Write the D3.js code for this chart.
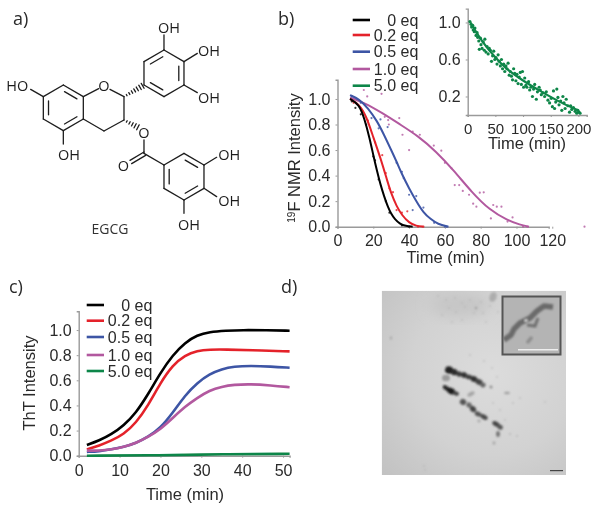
<!DOCTYPE html>
<html><head><meta charset="utf-8">
<script src="https://cdn.jsdelivr.net/npm/d3@7"></script>
<style>html,body{margin:0;padding:0;background:#fff}svg{display:block}</style>
</head><body><svg id="c" width="600" height="505"></svg>
<script>
// ---------- data ----------
const eqLabels = ["0 eq","0.2 eq","0.5 eq","1.0 eq","5.0 eq"];
const seriesColors = ["#050505","#e4232b","#3d55a5","#b2599f","#108648"];
const yTicksB = [0,0.2,0.4,0.6,0.8,1.0];
const xTicksB = [0,20,40,60,80,100,120];
const yTicksInset = [0.2,0.6,1.0];
const xTicksInset = [0,50,100,150,200];
const xTicksC = [0,10,20,30,40,50];

const nmrCurve0 = [[7,1.0],[12,.96],[15,.85],[18,.69],[20,.56],[22,.44],[24,.33],[26,.24],[28,.16],[30,.1],[32,.06],[35,.02],[38,.005],[42,0]];
const nmrCurve02 = [[7,1.0],[12,.96],[16,.87],[20,.7],[24,.54],[28,.35],[30,.26],[33,.16],[36,.09],[40,.03],[44,.005],[48,0]];
const nmrCurve05 = [[7,1.03],[12,1.0],[17,.93],[22,.83],[26,.72],[30,.6],[33,.51],[36,.41],[40,.3],[44,.2],[48,.11],[52,.06],[56,.02],[62,0]];
const nmrCurve10 = [[7,1.01],[15,.97],[25,.89],[35,.80],[45,.71],[55,.59],[65,.44],[75,.27],[85,.13],[95,.05],[102,.015],[107,0]];
const nmrPts0 = [[8,.98],[10,.93],[13,.88],[16,.8],[20,.55],[21,.52],[23,.37],[27,.2],[29,.11],[36,.01],[40,0]];
const nmrPts02 = [[9,.97],[11,.96],[14,.9],[17,.83],[21,.66],[25,.56],[27,.42],[29,.3],[31,.27],[33,.13],[36,.11],[39,.12],[45,0],[48,0]];
const nmrPts05 = [[8,1.02],[13,.97],[19,.85],[24,.84],[23,.77],[28,.78],[33,.5],[36,.43],[37,.38],[40,.25],[44,.24],[42,.13],[48,.15],[54,.03],[60,0],[61,0]];
const nmrPts10 = [[14.7,1.07],[16.6,1.02],[24.6,1.04],[28.3,.835],[28.7,.8],[26.4,.86],[34.5,.85],[36.3,.72],[40,.6],[42,.745],[46,.72],[53.8,.635],[58,.595],[60,.5],[63.7,.457],[65.5,.326],[68,.326],[70,.28],[73.5,.25],[79.5,.266],[81.7,.269],[75.8,.18],[77.6,.157],[87,.17],[89,.157],[91.6,.157],[85.7,.065],[97.8,.073],[95,.04],[106,0],[103.7,0],[138,0]];

const insetCurve = [[5,1.0],[26,.79],[50,.62],[68,.505],[100,.37],[128,.27],[164,.145],[200,.05]];
const insetPts = [[4,1.01],[6,.98],[7,.95],[9,.97],[10,.92],[12,.9],[13,.94],[15,.86],[17,.89],[18,.84],[20,.8],[21,.71],[23,.83],[24,.76],[26,.72],[28,.79],[30,.7],[31,.82],[33,.68],[35,.74],[37,.66],[39,.72],[41,.7],[43,.58],[45,.64],[47,.69],[49,.6],[51,.62],[53,.55],[55,.65],[57,.58],[59,.53],[61,.6],[63,.5],[65,.55],[67,.47],[69,.53],[71,.5],[73,.56],[75,.43],[77,.47],[79,.42],[81,.38],[83,.5],[85,.45],[87,.37],[89,.44],[91,.34],[93,.41],[95,.46],[97,.33],[99,.47],[101,.3],[103,.4],[105,.32],[107,.3],[110,.36],[112,.27],[114,.3],[117,.2],[119,.28],[121,.33],[124,.17],[126,.25],[129,.3],[131,.27],[133,.22],[136,.24],[139,.2],[142,.25],[145,.16],[148,.13],[151,.18],[153,.09],[155,.26],[157,.07],[159,.14],[161,.28],[163,.19],[165,.11],[168,.15],[170,.05],[172,.2],[174,.13],[176,.07],[178,.17],[181,.1],[184,.03],[186,.1],[188,.06],[191,.08],[194,.04],[197,.02],[199,.05],[201,.03],[203,.02]];

const thtCurve0 = [[2,.085],[5,.12],[8,.17],[11,.24],[14,.34],[17,.49],[20,.66],[23,.8],[26,.9],[29,.96],[32,.985],[36,.995],[40,1],[46,.998],[52,.995]];
const thtCurve02 = [[2,.05],[5,.08],[8,.12],[11,.17],[14,.26],[17,.4],[20,.58],[23,.72],[26,.8],[29,.835],[32,.845],[36,.845],[42,.84],[52,.83]];
const thtCurve05 = [[2,.03],[5,.035],[8,.05],[11,.07],[14,.1],[17,.15],[20,.22],[23,.34],[26,.48],[29,.58],[32,.65],[35,.69],[38,.71],[42,.715],[47,.71],[52,.70]];
const thtCurve10 = [[2,.04],[5,.04],[8,.05],[11,.07],[14,.1],[17,.15],[20,.21],[23,.3],[26,.39],[29,.46],[32,.52],[35,.55],[38,.565],[42,.57],[47,.56],[52,.545]];
const thtCurve50 = [[2,0],[20,.003],[35,.012],[52,.015]];

// ---------- setup ----------
const FONT = "'Liberation Sans',Arial,sans-serif", TXT="#2a2a2a", AX="#9a9a9a";
const svg = d3.select("#c");
const defs = svg.append("defs");
const blur=(id,s)=>defs.append("filter").attr("id",id).attr("x","-30%").attr("y","-30%").attr("width","160%").attr("height","160%").append("feGaussianBlur").attr("stdDeviation",s);
blur("soft",0.45); blur("b1",0.8); blur("b2",1.2); blur("b6",7);
const root = svg.append("g").attr("filter","url(#soft)");
const curveLine=(x,y)=>d3.line().x(d=>x(d[0])).y(d=>y(d[1])).curve(d3.curveBasis);

function axes(g,x,y,xTicks,yTicks,o){
  const xA=g.append("g").attr("transform",`translate(0,${y(0)})`).call(d3.axisBottom(x).tickValues(xTicks).tickSize(o.tick).tickPadding(o.xpad).tickFormat(d3.format("d")));
  const yA=g.append("g").attr("transform",`translate(${x(0)},0)`).call(d3.axisLeft(y).tickValues(yTicks).tickSize(o.tick).tickPadding(o.ypad).tickFormat(d3.format(".1f")));
  [xA,yA].forEach(a=>{a.selectAll("path").attr("stroke",AX).attr("stroke-width",1.4);
    a.selectAll("line").attr("stroke",AX).attr("stroke-width",1);
    a.selectAll("text").attr("fill",TXT).attr("font-family",FONT).attr("font-size",o.size);});
  xA.selectAll("text").attr("font-size",o.xsize||o.size);
}
function legend(g,x0,x1,xr,ys,fs){
  eqLabels.forEach((t,i)=>{
    g.append("line").attr("x1",x0).attr("x2",x1).attr("y1",ys[i]).attr("y2",ys[i]).attr("stroke",seriesColors[i]).attr("stroke-width",2.6);
    g.append("text").attr("x",xr).attr("y",ys[i]+5.5).attr("text-anchor","end").attr("font-family",FONT).attr("font-size",fs).attr("fill",TXT).text(t);
  });
}
function label(g,x,y,t,fs,o={}){
  return g.append("text").attr("x",x).attr("y",y).attr("text-anchor",o.anchor||"middle").attr("font-family",o.font||FONT).attr("font-size",fs).attr("fill",o.fill||TXT).text(t);
}

// ---------- panel b ----------
const bx=d3.scaleLinear().domain([0,118]).range([337.5,548.7]);
const by=d3.scaleLinear().domain([0,1.15]).range([226.7,79.8]);
const gb=root.append("g");
axes(gb,bx,by,xTicksB,yTicksB,{tick:2,xpad:6,ypad:5,size:16});
const bc=[nmrCurve0,nmrCurve02,nmrCurve05,nmrCurve10], bp=[nmrPts0,nmrPts02,nmrPts05,nmrPts10];
[3,2,1,0].forEach(i=>{
  gb.append("g").selectAll("circle").data(bp[i]).join("circle").attr("cx",d=>bx(d[0])).attr("cy",d=>by(d[1])).attr("r",1.1).attr("fill",seriesColors[i]).attr("opacity",.8);
  gb.append("path").attr("d",curveLine(bx,by)(bc[i])).attr("fill","none").attr("stroke",seriesColors[i]).attr("stroke-width",2);
});
legend(gb,352.7,370,418.3,[20,35,51.7,69,85.7],16);
label(gb,445.7,263,"Time (min)",16.5);
const yl=gb.append("text").attr("transform","translate(300,158) rotate(-90)").attr("text-anchor","middle").attr("font-family",FONT).attr("font-size",16.5).attr("fill",TXT);
yl.append("tspan").attr("font-size",10).attr("dy",-5).text("19");
yl.append("tspan").attr("dy",5).text("F NMR Intensity");

// inset
const ix=d3.scaleLinear().domain([0,215]).range([467.7,586.7]);
const iy=d3.scaleLinear().domain([0,1.15]).range([115,8.6]);
const gi=root.append("g");
axes(gi,ix,iy,xTicksInset,yTicksInset,{tick:2,xpad:6,ypad:5,size:16,xsize:15});
gi.append("g").selectAll("circle").data(insetPts).join("circle").attr("cx",d=>ix(d[0])).attr("cy",d=>iy(d[1])).attr("r",1.6).attr("fill",seriesColors[4]);
gi.append("path").attr("d",curveLine(ix,iy)(insetCurve)).attr("fill","none").attr("stroke",seriesColors[4]).attr("stroke-width",2.2);
label(gi,527,149,"Time (min)",16.5);

// ---------- panel c ----------
const cx=d3.scaleLinear().domain([0,51.6]).range([78.7,289.6]);
const cy=d3.scaleLinear().domain([0,1.15]).range([455.7,311.2]);
const gc=root.append("g");
axes(gc,cx,cy,xTicksC,yTicksB,{tick:2,xpad:7,ypad:5,size:16});
[thtCurve0,thtCurve02,thtCurve05,thtCurve10,thtCurve50].forEach((c,i)=>{
  gc.append("path").attr("d",curveLine(cx,cy)(c.map(d=>[Math.min(d[0],51.6),d[1]]))).attr("fill","none").attr("stroke",seriesColors[i]).attr("stroke-width",2.6);
});
legend(gc,86.7,104,152.3,[305,320.7,337,355,371],16);
label(gc,185,500,"Time (min)",16.5);
gc.append("text").attr("transform","translate(35,383) rotate(-90)").attr("text-anchor","middle").attr("font-family",FONT).attr("font-size",16.5).attr("fill",TXT).text("ThT Intensity");

// ---------- panel labels ----------
const OS="'Open Sans',sans-serif";
[["a)",13,25],["b)",278,25],["c)",9,293],["d)",281,293]].forEach(a=>label(root,a[1],a[2],a[0],18,{anchor:"start",font:OS}));

// ---------- panel a : EGCG structure ----------
const gm=root.append("g").attr("stroke","#1c1c1c").attr("stroke-width",1.3).attr("stroke-linecap","round").attr("fill","none").attr("transform","scale(.3333)");
const A=[[190,255],[250,290],[250,357],[190,392],[130,357],[130,290]];
const B=[[432,255],[432,185],[492,150],[552,185],[552,255],[492,290]];
const C=[[492,495],[552,460],[612,495],[612,565],[552,600],[492,565]];
const seg=(p,q)=>gm.append("line").attr("x1",p[0]).attr("y1",p[1]).attr("x2",q[0]).attr("y2",q[1]).attr("stroke-width",3.9);
function ring(R,dbl){
  R.forEach((p,i)=>seg(p,R[(i+1)%6]));
  const c=[d3.mean(R,d=>d[0]),d3.mean(R,d=>d[1])];
  dbl.forEach(i=>{const p=R[i],q=R[(i+1)%6],f=.74;
    const m=(a)=>[c[0]+(a[0]-c[0])*f,c[1]+(a[1]-c[1])*f];
    const u=m(p),v=m(q),t=.08;
    seg([u[0]+(v[0]-u[0])*t,u[1]+(v[1]-u[1])*t],[v[0]-(v[0]-u[0])*t,v[1]-(v[1]-u[1])*t]);});
}
ring(A,[0,2,4]); ring(B,[1,3,5]); ring(C,[1,3,5]);
[[[250,290],[296,266]],[[330,268],[372,290]],[[372,290],[372,360]],[[372,360],[312,393]],[[312,393],[250,357]],
 [[130,290],[92,268]],[[190,392],[190,432]],[[492,150],[492,105]],[[552,185],[592,160]],[[552,255],[592,278]],
 [[432,420],[432,460]],[[432,460],[492,495]],[[432,456],[390,481]],[[437,466],[395,491]],
 [[612,495],[650,472]],[[612,565],[650,590]],[[552,600],[552,640]]].forEach(s=>seg(s[0],s[1]));
function hash(p,q,n){for(let i=1;i<=n;i++){const t=i/(n+.5),x=p[0]+(q[0]-p[0])*t,y=p[1]+(q[1]-p[1])*t;
  const d=Math.hypot(q[0]-p[0],q[1]-p[1]),nx=-(q[1]-p[1])/d,ny=(q[0]-p[0])/d,w=1+t*8;
  seg([x-nx*w,y-ny*w],[x+nx*w,y+ny*w]);}}
hash([372,290],[432,255],7); hash([372,360],[418,384],5);
const atoms=[["HO",52,258],["O",312,258],["OH",207,465],["OH",507,82],["OH",627,152],["OH",627,292],["O",432,397],["O",370,497],["OH",688,465],["OH",688,603],["OH",567,673]];
atoms.forEach(a=>label(root,a[1]/3,a[2]/3+5.2,a[0],14.5,{font:OS,fill:"#1c1c1c"}));
label(root,110,234,"EGCG",14,{font:OS,fill:"#333"});

// ---------- panel d : micrograph ----------
const photoBlobs=[ // x,y,rx,ry,angle,fill
 [449,370,4,3.6,20,"#222"],[454,372,3.4,3.2,20,"#2a2a2a"],[459,374,3,2.6,20,"#3a3a3a"],[464,375,3,2.8,30,"#333"],[469,377,3.4,2.4,10,"#3d3d3d"],[474,379,3.2,2.9,20,"#333"],[479,382,3.8,2.8,25,"#444"],[483,385,2.6,2.4,25,"#666"],
 [446,388,3.6,2.2,35,"#2a2a2a"],[451,391,5,3,28,"#1d1d1d"],[456,393.5,3,2,20,"#444"],
 [463,402,3.2,3,30,"#555"],[469,405,2.6,2.6,30,"#666"],[473,409,3.4,2.8,50,"#444"],[478,414,3.4,2.4,20,"#555"],[484,417,4,2.4,30,"#4a4a4a"],
 [496,424,4,2.4,30,"#444"],[500,427,3,2.4,30,"#555"],[498,434,2,3,0,"#777"],[446,378,4,3.2,0,"#9a9a9a"],[471,394,4,2,-30,"#a6a6a6"],
 [507,393,3,1.2,0,"#a0a0a0"],[491,387,1.6,1.3,30,"#8c8c8c"],[479,421,1.6,1.4,0,"#a8a8a8"],[494,443,1.5,1.7,0,"#a8a8a8"],[391,338,.9,1.8,0,"#a0a0a0"],
 [493,297,3.5,5,20,"#adadad"],[476,308,1.3,1.2,0,"#a0a0a0"],[513,403,1,1,0,"#bdbdbd"],[510,434,1,1,0,"#b4b4b4"],[517,436,1,1,0,"#b8b8b8"]];
const speckles=[[438,296],[446,300],[455,298],[462,303],[470,300],[481,302],[449,308],[456,312],[465,307],[474,313],[442,315],[483,313],[490,306],[498,312],[486,322],[462,320],[452,322],[492,368],[497,377],[484,361],[470,355],[500,410],[505,420],[493,403],[520,398],[545,402],[425,470],[424,466]];
const gd=svg.append("g");
const gr=defs.append("radialGradient").attr("id","pg").attr("cx",.6).attr("cy",.45).attr("r",.8);
gr.append("stop").attr("offset",0).attr("stop-color","#dcdcdc");gr.append("stop").attr("offset",.55).attr("stop-color","#d2d2d2");gr.append("stop").attr("offset",1).attr("stop-color","#c2c2c2");
defs.append("clipPath").attr("id","pc").append("rect").attr("x",381.7).attr("y",290.7).attr("width",184.3).attr("height",184.3);
const gp=gd.append("g").attr("clip-path","url(#pc)");
gp.append("rect").attr("x",381.7).attr("y",290.7).attr("width",184.3).attr("height",184.3).attr("fill","url(#pg)");
gp.append("ellipse").attr("cx",460).attr("cy",305).attr("rx",30).attr("ry",12).attr("fill","#c6c6c6").attr("filter","url(#b6)");
gp.append("g").attr("filter","url(#b1)").selectAll("circle").data(speckles).join("circle").attr("cx",d=>d[0]).attr("cy",d=>d[1]).attr("r",1).attr("fill","#a8a8a8").attr("opacity",.55);
gp.append("g").attr("filter","url(#b1)").selectAll("ellipse").data(photoBlobs).join("ellipse")
  .attr("transform",d=>`translate(${d[0]},${d[1]}) rotate(${d[4]})`).attr("rx",d=>d[2]).attr("ry",d=>d[3]).attr("fill",d=>d[5]);
gp.append("rect").attr("x",550).attr("y",470).attr("width",13).attr("height",1.2).attr("fill","#444");
// micrograph inset
const ins=gd.append("g");
ins.append("rect").attr("x",502.5).attr("y",296.5).attr("width",58).attr("height",58).attr("fill","#b4b4b4").attr("stroke","#555").attr("stroke-width",2);
const insetPath=[[504,340],[511,335],[514,329],[520,323],[530,318],[537,311],[544,306],[553,307]];
ins.append("path").attr("d",d3.line()(insetPath)).attr("fill","none").attr("stroke","#6a6a6a").attr("stroke-width",5.5).attr("stroke-linejoin","round").attr("filter","url(#b2)");
ins.append("path").attr("d",d3.line()([[527,325],[535,326],[538,318]])).attr("fill","none").attr("stroke","#707070").attr("stroke-width",3).attr("filter","url(#b2)");
ins.append("path").attr("d",d3.line()([[527,343],[532,337]])).attr("fill","none").attr("stroke","#8c8c8c").attr("stroke-width",3.5).attr("filter","url(#b2)");
ins.append("circle").attr("cx",526).attr("cy",320.5).attr("r",1.8).attr("fill","#d8d8d8").attr("filter","url(#b1)");
ins.append("line").attr("x1",518).attr("x2",558).attr("y1",349.7).attr("y2",349.7).attr("stroke","#eee").attr("stroke-width",1.6);
</script></body></html>
